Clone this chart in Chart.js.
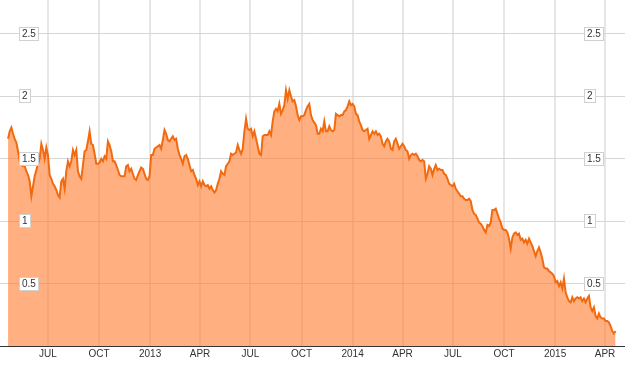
<!DOCTYPE html>
<html>
<head>
<meta charset="utf-8">
<script src="https://cdn.jsdelivr.net/npm/chart.js@4.4.1/dist/chart.umd.min.js"></script>
<style>
  html, body { margin: 0; padding: 0; background: #fff; }
  #wrap { width: 625px; height: 365px; }
</style>
</head>
<body>
<div id="wrap"><canvas id="priceChart" width="625" height="365"></canvas></div>
<script>
// days counted from 1 Jan 2012, one reading every 3 days
const startDay = 110;
const stepDays = 3;
const values = [
    1.66,1.72,1.75,1.70,1.66,1.63,1.56,1.48,1.45,1.44,
    1.44,1.40,1.37,1.32,1.20,1.28,1.36,1.41,1.46,1.50,
    1.62,1.57,1.50,1.59,1.53,1.37,1.34,1.30,1.28,1.25,
    1.21,1.19,1.32,1.34,1.26,1.40,1.48,1.44,1.48,1.57,
    1.53,1.57,1.40,1.36,1.34,1.45,1.56,1.57,1.64,1.72,
    1.62,1.61,1.54,1.46,1.46,1.47,1.50,1.48,1.52,1.50,
    1.64,1.61,1.56,1.48,1.48,1.45,1.41,1.37,1.36,1.36,
    1.36,1.44,1.45,1.40,1.42,1.38,1.34,1.33,1.37,1.40,
    1.43,1.42,1.38,1.34,1.33,1.36,1.53,1.53,1.58,1.59,
    1.60,1.61,1.58,1.65,1.73,1.70,1.65,1.64,1.66,1.68,
    1.65,1.66,1.58,1.53,1.50,1.46,1.52,1.53,1.50,1.45,
    1.40,1.41,1.37,1.34,1.29,1.32,1.28,1.32,1.29,1.28,
    1.29,1.26,1.28,1.25,1.23,1.25,1.30,1.34,1.40,1.38,
    1.37,1.44,1.46,1.48,1.54,1.53,1.54,1.55,1.61,1.57,
    1.54,1.58,1.72,1.82,1.74,1.73,1.74,1.68,1.72,1.66,
    1.60,1.54,1.53,1.68,1.69,1.69,1.69,1.72,1.69,1.80,
    1.88,1.90,1.88,1.94,1.86,1.89,1.93,2.05,1.98,2.05,
    2.00,1.96,1.97,1.92,1.85,1.81,1.84,1.84,1.85,1.89,
    1.92,1.94,1.85,1.81,1.79,1.77,1.70,1.70,1.74,1.72,
    1.80,1.72,1.72,1.76,1.73,1.72,1.73,1.86,1.85,1.84,
    1.85,1.85,1.88,1.89,1.92,1.96,1.93,1.94,1.92,1.86,
    1.85,1.80,1.77,1.73,1.72,1.73,1.74,1.66,1.69,1.72,
    1.70,1.72,1.69,1.70,1.68,1.62,1.60,1.64,1.66,1.64,
    1.58,1.57,1.64,1.66,1.62,1.58,1.60,1.62,1.60,1.57,
    1.56,1.50,1.53,1.54,1.53,1.54,1.52,1.49,1.48,1.49,
    1.48,1.34,1.38,1.44,1.42,1.37,1.42,1.45,1.41,1.42,
    1.41,1.41,1.38,1.37,1.34,1.30,1.29,1.28,1.30,1.26,
    1.24,1.22,1.20,1.20,1.18,1.17,1.17,1.18,1.16,1.09,
    1.06,1.05,1.02,0.99,0.98,0.96,0.93,0.91,0.97,0.96,
    0.99,1.09,1.09,1.10,1.06,1.02,0.99,0.94,0.93,0.93,
    0.91,0.86,0.78,0.87,0.90,0.91,0.89,0.90,0.85,0.86,
    0.83,0.85,0.82,0.86,0.83,0.80,0.76,0.72,0.76,0.79,
    0.75,0.70,0.63,0.62,0.62,0.60,0.59,0.58,0.56,0.51,
    0.52,0.48,0.51,0.46,0.54,0.43,0.39,0.36,0.35,0.39,
    0.36,0.38,0.39,0.38,0.39,0.36,0.38,0.35,0.38,0.40,
    0.31,0.28,0.31,0.24,0.22,0.26,0.23,0.22,0.22,0.20,
    0.20,0.19,0.16,0.12,0.10,0.12
];

// x axis ticks (day numbers from 1 Jan 2012) and their labels
const tickDays = [182, 274, 366, 456, 547, 639, 731, 821, 912, 1004, 1096, 1186];
const tickLabels = ['JUL', 'OCT', '2013', 'APR', 'JUL', 'OCT', '2014', 'APR', 'JUL', 'OCT', '2015', 'APR'];
const xRange = [95.5, 1222];
const yRange = [0, 2.772];
const yStep = 0.5;

const points = values.map((v, i) => ({ x: startDay + i * stepDays, y: v }));

// boxed value labels on both sides of the plot
const boxedLabels = {
    id: 'boxedLabels',
    afterDatasetsDraw(chart) {
        const ctx = chart.ctx;
        const yScale = chart.scales.y;
        ctx.save();
        ctx.font = '10px "Liberation Sans", Arial, sans-serif';
        ctx.textBaseline = 'middle';
        ctx.textAlign = 'left';
        yScale.ticks.forEach(t => {
            if (t.value === 0) return;
            const py = Math.round(yScale.getPixelForValue(t.value));
            const txt = String(t.value);
            const w = Math.round(ctx.measureText(txt).width) + 5;
            [19.5, 584.5].forEach(bx => {
                ctx.fillStyle = '#fff';
                ctx.strokeStyle = '#d0d0d0';
                ctx.lineWidth = 1;
                ctx.fillRect(bx, py - 6.5, w, 13);
                ctx.strokeRect(bx, py - 6.5, w, 13);
                ctx.fillStyle = '#333';
                ctx.fillText(txt, bx + 2.5, py + 0.5);
            });
        });
        ctx.restore();
    }
};

new Chart(document.getElementById('priceChart').getContext('2d'), {
    type: 'line',
    data: {
        datasets: [{
            data: points,
            borderColor: '#f26a10',
            borderWidth: 2,
            backgroundColor: 'rgba(255,122,43,0.6)',
            fill: 'origin',
            pointRadius: 0,
            tension: 0
        }]
    },
    options: {
        responsive: false,
        animation: false,
        devicePixelRatio: 1,
        layout: { autoPadding: false, padding: { left: 0, right: 0, top: 0, bottom: 3 } },
        plugins: { legend: { display: false }, tooltip: { enabled: false } },
        scales: {
            x: {
                type: 'linear',
                min: xRange[0],
                max: xRange[1],
                afterBuildTicks: scale => {
                    scale.ticks = tickDays.map(d => ({ value: d }));
                },
                ticks: {
                    autoSkip: false,
                    maxRotation: 0,
                    padding: 2,
                    color: '#333',
                    font: { family: '"Liberation Sans", Arial, sans-serif', size: 10 },
                    callback: (value, index) => tickLabels[index]
                },
                grid: { color: '#e6e6e6', lineWidth: 2, drawTicks: false },
                border: { display: true, color: '#333', width: 1 }
            },
            y: {
                min: yRange[0],
                max: yRange[1],
                ticks: { display: false, stepSize: yStep, includeBounds: false },
                grid: { color: '#d6d6d6', lineWidth: 1, drawTicks: false },
                border: { display: false }
            }
        }
    },
    plugins: [boxedLabels]
});
</script>
</body>
</html>
